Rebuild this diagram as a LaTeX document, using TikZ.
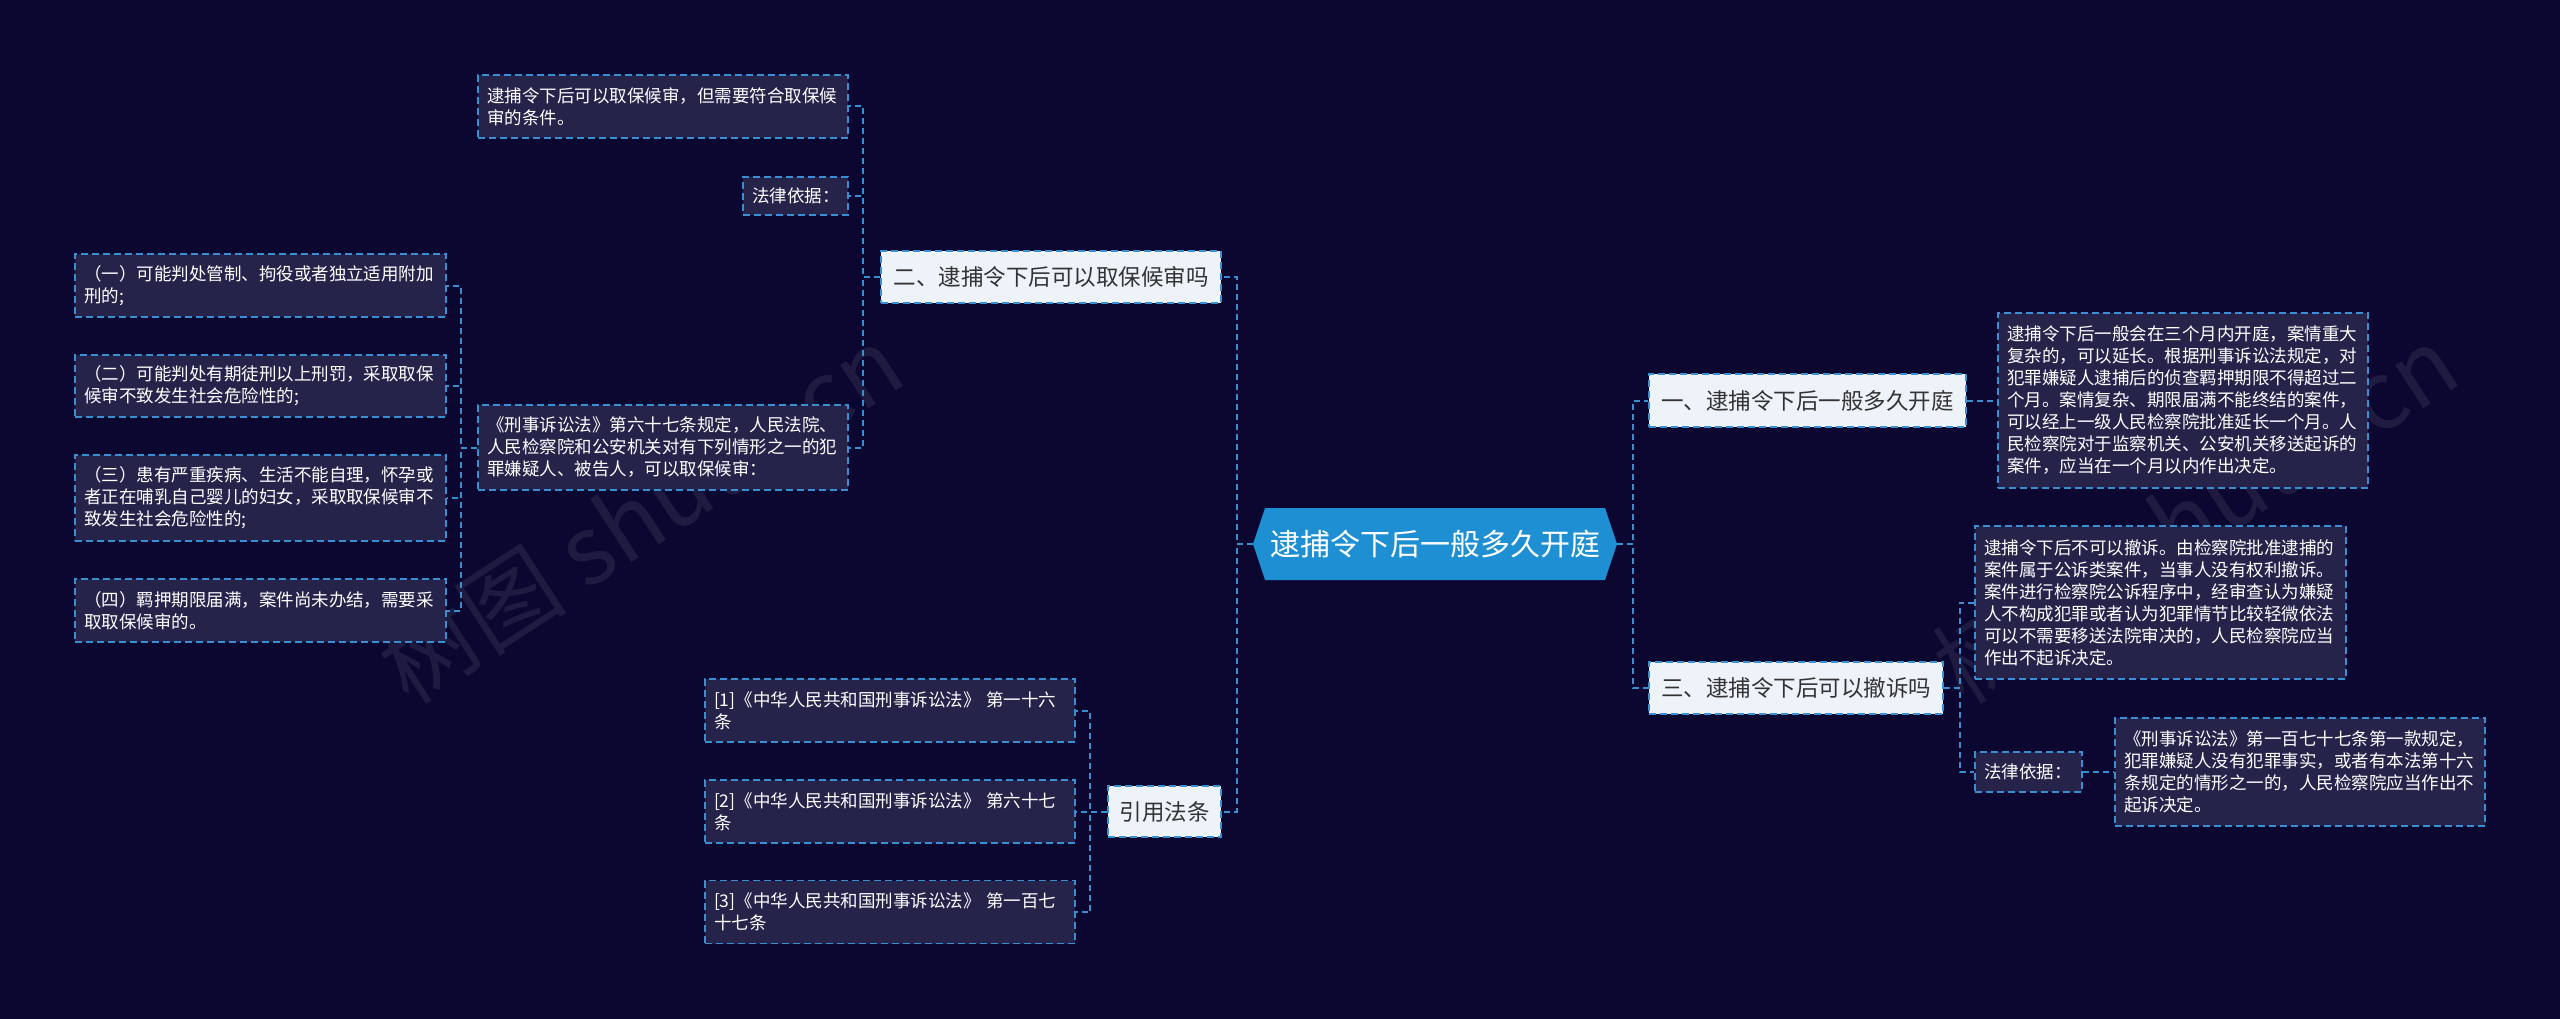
\documentclass[tikz,border=0pt]{standalone}
\usepackage{fontspec}
\setmainfont{Noto Sans CJK SC}
\usetikzlibrary{calc}
\definecolor{bg}{HTML}{0B0730}
\definecolor{boxfill}{HTML}{26234B}
\definecolor{lineblue}{HTML}{3A8ED2}
\definecolor{lvlfill}{HTML}{EEF3FA}
\definecolor{lvltext}{HTML}{333333}
\definecolor{cfill}{HTML}{1D8FD2}
\begin{document}
\begin{tikzpicture}[x=1pt,y=-1pt,
  tbox/.style={draw=lineblue, line width=1.6pt, dash pattern=on 7pt off 4pt, fill=boxfill, text=white,
    font=\fontsize{17.5}{22}\selectfont, align=left, inner xsep=9pt, inner ysep=0pt},
  lvl/.style={draw=lineblue, line width=1.6pt, dash pattern=on 7pt off 4pt, fill=lvlfill, text=lvltext,
    font=\fontsize{22.5}{27}\selectfont, inner sep=0pt, align=center},
  conn/.style={draw=lineblue, line width=2pt, dash pattern=on 6pt off 4pt},
  wm/.style={text=white, opacity=0.08, font=\fontsize{95}{100}\selectfont, rotate=33, inner sep=0pt},
]
\fill[bg] (0,0) rectangle (2560,1019);
\useasboundingbox (0,0) rectangle (2560,1019);

% watermarks
\node[wm] (wm1) at (640,514) {树图 shutu.cn};
\node[wm] (wm2) at (2195,514) {树图 shutu.cn};

% center
\coordinate (cC) at (1435,544);
\fill[cfill] ($(cC)+(-170,-36)$) -- ($(cC)+(170,-36)$) -- ($(cC)+(182,0)$) -- ($(cC)+(170,36)$)
  -- ($(cC)+(-170,36)$) -- ($(cC)+(-182,0)$) -- cycle;
\node[text=white, font=\fontsize{30}{36}\selectfont, minimum width=364pt, minimum height=72pt, inner sep=0pt] (C) at (cC) {逮捕令下后一般多久开庭};

% level 1
\node[lvl, minimum width=340pt, minimum height=52pt] (N2) at (1051,277) {二、逮捕令下后可以取保候审吗};
\node[lvl, minimum width=113pt, minimum height=51pt] (N4) at (1164.5,811.5) {引用法条};
\node[lvl, minimum width=317pt, minimum height=53pt] (N1) at (1807.5,400.5) {一、逮捕令下后一般多久开庭};
\node[lvl, minimum width=294pt, minimum height=52pt] (N3) at (1796,688) {三、逮捕令下后可以撤诉吗};

% left branch (二)
\node[tbox, text width=352pt, minimum height=63pt] (A1) at (663,106.5) {逮捕令下后可以取保候审，但需要符合取保候\\审的条件。};
\node[tbox, text width=87pt, minimum height=38pt] (A2) at (795.5,196) {法律依据：};
\node[tbox, text width=352pt, minimum height=85pt] (A3) at (663,447.5) {《刑事诉讼法》第六十七条规定，人民法院、\\人民检察院和公安机关对有下列情形之一的犯\\罪嫌疑人、被告人，可以取保候审：};
\node[tbox, text width=353pt, minimum height=63pt] (B1) at (260.5,285.5) {（一）可能判处管制、拘役或者独立适用附加\\刑的;};
\node[tbox, text width=353pt, minimum height=62pt] (B2) at (260.5,386) {（二）可能判处有期徒刑以上刑罚，采取取保\\候审不致发生社会危险性的;};
\node[tbox, text width=353pt, minimum height=86pt] (B3) at (260.5,498) {（三）患有严重疾病、生活不能自理，怀孕或\\者正在哺乳自己婴儿的妇女，采取取保候审不\\致发生社会危险性的;};
\node[tbox, text width=353pt, minimum height=63pt] (B4) at (260.5,610.5) {（四）羁押期限届满，案件尚未办结，需要采\\取取保候审的。};

% references
\node[tbox, text width=352pt, minimum height=63pt] (R1) at (890,710.5) {[1]《中华人民共和国刑事诉讼法》 第一十六\\条};
\node[tbox, text width=352pt, minimum height=63pt] (R2) at (890,811.5) {[2]《中华人民共和国刑事诉讼法》 第六十七\\条};
\node[tbox, text width=352pt, minimum height=63pt] (R3) at (890,912) {[3]《中华人民共和国刑事诉讼法》 第一百七\\十七条};

% right branch
\node[tbox, text width=352pt, minimum height=175pt] (T1) at (2183,400.5) {逮捕令下后一般会在三个月内开庭，案情重大\\复杂的，可以延长。根据刑事诉讼法规定，对\\犯罪嫌疑人逮捕后的侦查羁押期限不得超过二\\个月。案情复杂、期限届满不能终结的案件，\\可以经上一级人民检察院批准延长一个月。人\\民检察院对于监察机关、公安机关移送起诉的\\案件，应当在一个月以内作出决定。};
\node[tbox, text width=353pt, minimum height=153pt] (T2) at (2160.5,602.5) {逮捕令下后不可以撤诉。由检察院批准逮捕的\\案件属于公诉类案件，当事人没有权利撤诉。\\案件进行检察院公诉程序中，经审查认为嫌疑\\人不构成犯罪或者认为犯罪情节比较轻微依法\\可以不需要移送法院审决的，人民检察院应当\\作出不起诉决定。};
\node[tbox, text width=89pt, minimum height=40pt] (T3) at (2028.5,772) {法律依据：};
\node[tbox, text width=352pt, minimum height=108pt] (T4) at (2300,772) {《刑事诉讼法》第一百七十七条第一款规定，\\犯罪嫌疑人没有犯罪事实，或者有本法第十六\\条规定的情形之一的，人民检察院应当作出不\\起诉决定。};

% connectors
\draw[conn] (C.west) -- ++(-16,0) |- (N2.east);
\draw[conn] (C.west) -- ++(-16,0) |- (N4.east);
\draw[conn] (C.east) -- ++(16,0) |- (N1.west);
\draw[conn] (C.east) -- ++(16,0) |- (N3.west);

\draw[conn] (N2.west) -- ++(-17,0) |- (A1.east);
\draw[conn] (N2.west) -- ++(-17,0) |- (A2.east);
\draw[conn] (N2.west) -- ++(-17,0) |- (A3.east);

\draw[conn] (A3.west) -- ++(-16,0) |- (B1.east);
\draw[conn] (A3.west) -- ++(-16,0) |- (B2.east);
\draw[conn] (A3.west) -- ++(-16,0) |- (B3.east);
\draw[conn] (A3.west) -- ++(-16,0) |- (B4.east);

\draw[conn] (N4.west) -- ++(-17,0) |- (R1.east);
\draw[conn] (N4.west) -- ++(-17,0) |- (R2.east);
\draw[conn] (N4.west) -- ++(-17,0) |- (R3.east);

\draw[conn] (N1.east) -- (T1.west);
\draw[conn] (N3.east) -- ++(16,0) |- (T2.west);
\draw[conn] (N3.east) -- ++(16,0) |- (T3.west);
\draw[conn] (T3.east) -- (T4.west);
\end{tikzpicture}
\end{document}
